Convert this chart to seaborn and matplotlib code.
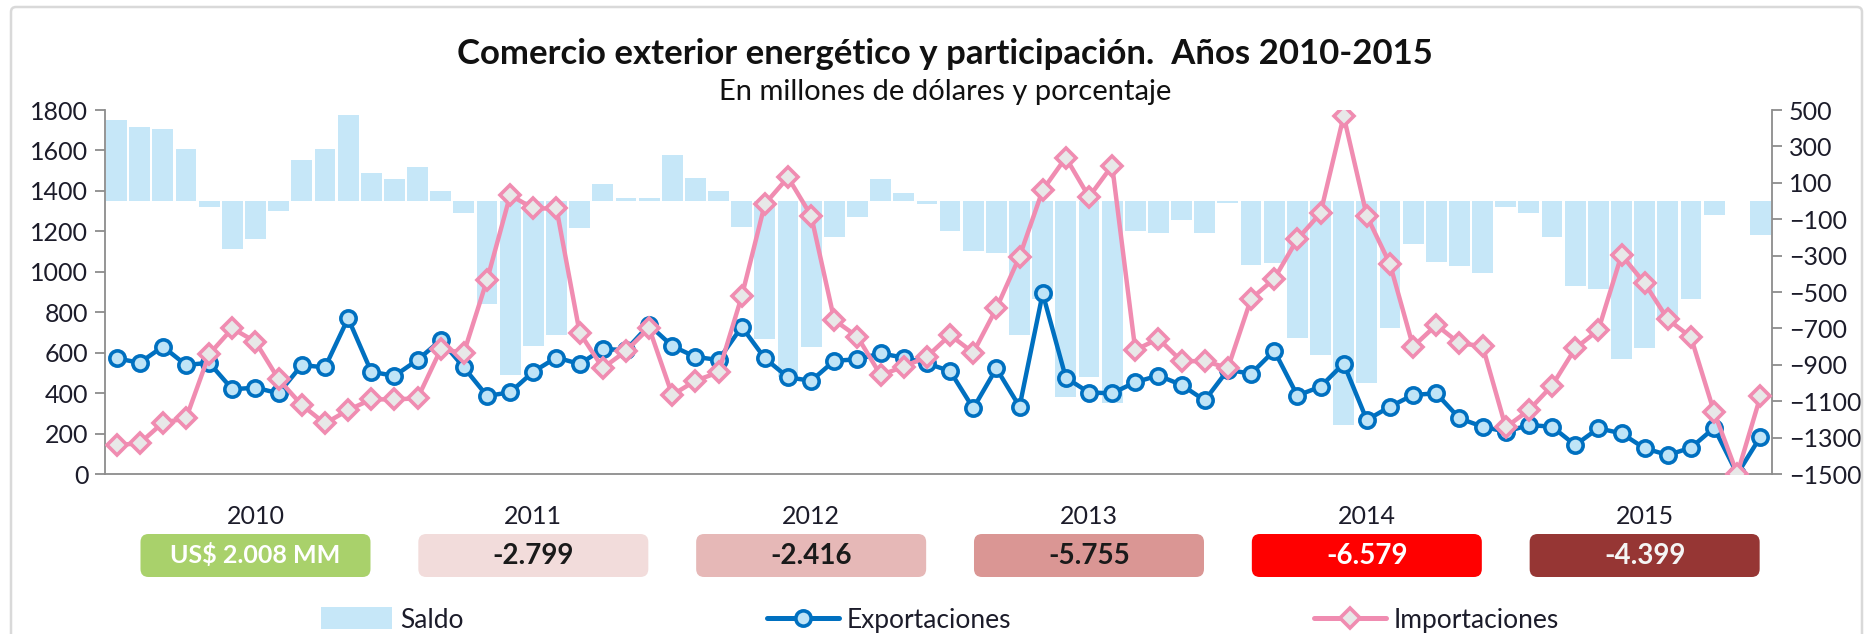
import numpy as np
import pandas as pd
import matplotlib
matplotlib.use("Agg")
import matplotlib.pyplot as plt
import seaborn as sns
from matplotlib.patches import FancyBboxPatch, Patch
from matplotlib.lines import Line2D
from matplotlib.transforms import blended_transform_factory

# ---------------- data ----------------
years = ["2010", "2011", "2012", "2013", "2014", "2015"]
year_totals = ["US$ 2.008 MM", "-2.799", "-2.416", "-5.755", "-6.579", "-4.399"]

exportaciones = [
    572, 550, 630, 539, 550, 419, 427, 399, 539, 527, 770, 506,
    485, 564, 662, 527, 386, 404, 506, 576, 544, 618, 613, 737,
    633, 579, 564, 728, 572, 478, 461, 560, 567, 597, 575, 547,
    509, 325, 522, 333, 893, 476, 403, 399, 454, 487, 440, 364,
    515, 496, 610, 388, 432, 546, 267, 333, 391, 399, 275, 234,
    209, 242, 234, 143, 226, 201, 127, 94, 130, 228, 0, 184,
]
importaciones = [
    143, 152, 254, 275, 592, 720, 654, 468, 341, 250, 316, 369,
    369, 374, 616, 600, 959, 1379, 1313, 1313, 699, 524, 608, 722,
    391, 461, 503, 878, 1335, 1467, 1277, 761, 679, 489, 531, 580,
    687, 600, 819, 1075, 1404, 1565, 1370, 1525, 613, 669, 558, 558,
    524, 866, 965, 1161, 1290, 1770, 1276, 1038, 630, 737, 646, 633,
    231, 316, 437, 621, 712, 1083, 943, 765, 676, 306, 0, 384,
]
saldo = [
    446, 409, 396, 286, -31, -265, -210, -55, 226, 284, 471, 152,
    119, 189, 55, -67, -566, -956, -797, -736, -150, 92, 15, 15,
    251, 129, 55, -141, -760, -965, -800, -196, -89, 119, 43, -15,
    -163, -274, -287, -736, -536, -1075, -965, -1108, -167, -174, -104, -174,
    -10, -354, -343, -754, -846, -1231, -1002, -699, -236, -333, -355, -393,
    -31, -67, -196, -467, -485, -870, -809, -654, -540, -77, 0, -186,
]
box_colors = ["#A9D16B", "#F2DCDB", "#E6B8B7", "#DA9694", "#FF0000", "#963634"]
box_text_colors = ["white", "#1a1a1a", "#1a1a1a", "#1a1a1a", "white", "#F5F5F5"]

df = pd.DataFrame({
    "mes": np.arange(len(saldo)),
    "Saldo": saldo,
    "Exportaciones": exportaciones,
    "Importaciones": importaciones,
})

# ---------------- style ----------------
sns.set_theme(style="white")
plt.rcParams["font.family"] = ["Lato", "DejaVu Sans"]

W, H, DPI = 1875, 634, 100
fig = plt.figure(figsize=(W / DPI, H / DPI), dpi=DPI)
fig.patch.set_facecolor("white")

L, R, T, B = 105, 1772, 110, 474
ax = fig.add_axes([L / W, 1 - B / H, (R - L) / W, (B - T) / H])
ax2 = ax.twinx()

bar_color = "#C6E7F8"
blue = "#0070C0"
pink = "#F08CB1"
axis_gray = "#8C8C8C"
txt = "#1C1C2A"

sns.barplot(data=df, x="mes", y="Saldo", ax=ax2, color=bar_color,
            saturation=1, width=0.9, linewidth=0, errorbar=None)

sns.lineplot(data=df, x="mes", y="Exportaciones", ax=ax, color=blue,
             linewidth=3.2, marker="o", markersize=11,
             markerfacecolor="#BFE4F7", markeredgecolor=blue,
             markeredgewidth=2.6, zorder=3)
sns.lineplot(data=df, x="mes", y="Importaciones", ax=ax, color=pink,
             linewidth=3.2, marker="D", markersize=10.5,
             markerfacecolor="#E8E8E8", markeredgecolor=pink,
             markeredgewidth=2.6, zorder=4)

ax.set_zorder(ax2.get_zorder() + 1)
ax.patch.set_visible(False)

n = len(saldo)
for a in (ax, ax2):
    a.set_xlim(-0.5, n - 0.5)
ax.set_ylim(0, 1800)
ax2.set_ylim(-1500, 500)

ax.set_yticks(np.arange(0, 1801, 200))
ax2.set_yticks(np.arange(-1500, 501, 200))
ax.set_xticks(np.arange(-0.5, n, 12))
ax.set_xticklabels([])
ax2.set_xticks([])
ax.set_xlabel("")
ax.set_ylabel("")
ax2.set_xlabel("")
ax2.set_ylabel("")
ax.grid(False)
ax2.grid(False)

for s in ("top", "right"):
    ax.spines[s].set_visible(False)
for s in ("top", "left", "bottom"):
    ax2.spines[s].set_visible(False)
for sp in (ax.spines["left"], ax.spines["bottom"], ax2.spines["right"]):
    sp.set_color(axis_gray)
    sp.set_linewidth(1.3)

ax.tick_params(axis="y", direction="out", length=7, width=1.3, color=axis_gray,
               labelsize=18, labelcolor=txt, pad=5, left=True)
ax.tick_params(axis="x", direction="out", length=9, width=1.3, color=axis_gray,
               bottom=True)
ax2.tick_params(axis="y", direction="out", length=7, width=1.3, color=axis_gray,
                labelsize=18, labelcolor=txt, pad=5, right=True)

# ---------------- year labels and boxes ----------------
fig.canvas.draw()
ytrans = blended_transform_factory(ax.transData, fig.transFigure)
for i, (yr, tot) in enumerate(zip(years, year_totals)):
    xc = 12 * i + 6
    ax.text(xc, 1 - 517 / H, yr, transform=ytrans, ha="center", va="center",
            fontsize=18, color=txt, clip_on=False)
    xpix = ax.transData.transform((xc, 0))[0]
    bw, bh = 230, 43
    y0 = H - 577
    box = FancyBboxPatch(((xpix - bw / 2) / DPI, y0 / DPI), bw / DPI, bh / DPI,
                         boxstyle="round,pad=0,rounding_size=0.08",
                         transform=fig.dpi_scale_trans, facecolor=box_colors[i],
                         edgecolor="none")
    fig.add_artist(box)
    fig.text(xpix / W, (y0 + bh / 2) / H, tot, ha="center", va="center",
             fontsize=18 if i == 0 else 20, fontweight="bold",
             color=box_text_colors[i])

# ---------------- titles ----------------
fig.text(945 / W, 1 - 54 / H, "Comercio exterior energético y participación.  Años 2010-2015",
         ha="center", va="center", fontsize=25, fontweight="bold", color="#111111")
fig.text(945 / W, 1 - 92 / H, "En millones de dólares y porcentaje",
         ha="center", va="center", fontsize=21, color="#111111")

# ---------------- legend ----------------
handles = [
    Patch(facecolor=bar_color, edgecolor="none"),
    Line2D([0], [0], color=blue, lw=3.6, marker="o", markersize=11,
           markerfacecolor="#BFE4F7", markeredgecolor=blue, markeredgewidth=2.6),
    Line2D([0], [0], color=pink, lw=3.6, marker="D", markersize=10.5,
           markerfacecolor="#E8E8E8", markeredgecolor=pink, markeredgewidth=2.6),
]
fig.legend(handles, ["Saldo", "Exportaciones", "Importaciones"],
           loc="center", bbox_to_anchor=(940 / W, 1 - 620 / H), ncol=3,
           frameon=False, fontsize=19, handlelength=2.7, handleheight=0.9,
           handletextpad=0.3, columnspacing=11.5, labelcolor=txt)

# ---------------- outer border ----------------
border = FancyBboxPatch((11 / DPI, -20 / DPI), (1862 - 11) / DPI, (H - 7 + 20) / DPI,
                        boxstyle="round,pad=0,rounding_size=0.05",
                        transform=fig.dpi_scale_trans, facecolor="none",
                        edgecolor="#D9D9D9", linewidth=1.8)
fig.add_artist(border)

fig.savefig("out.png", dpi=DPI, facecolor="white")
